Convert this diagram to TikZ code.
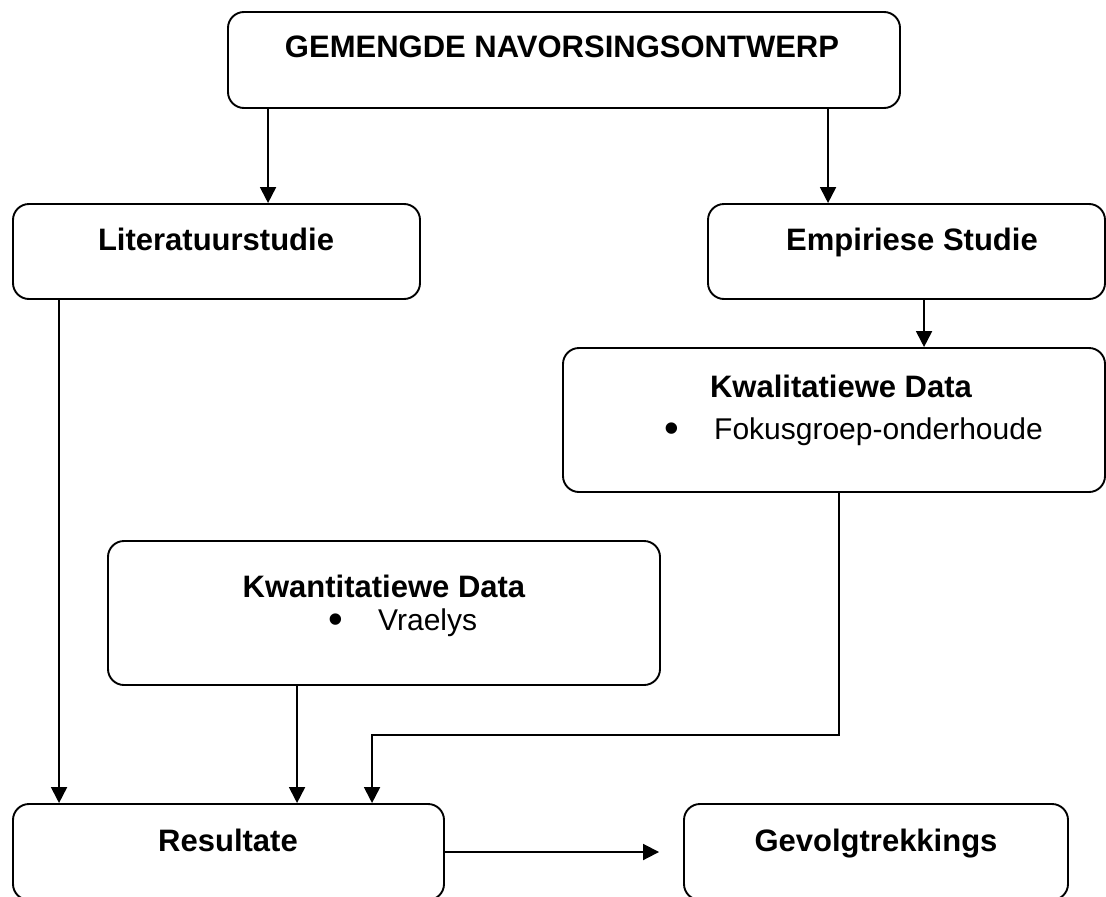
\documentclass[tikz,border=0pt]{standalone}
\usepackage{fontspec}
\setmainfont{Liberation Sans}
\usetikzlibrary{arrows.meta,calc}
\begin{document}
\begin{tikzpicture}[x=1pt,y=-1pt,
  box/.style={draw, line width=1.9pt, rounded corners=16pt, inner sep=0pt},
  hd/.style={anchor=base, inner sep=0pt, font=\fontsize{31}{37}\selectfont\bfseries},
  tx/.style={anchor=base west, inner sep=0pt, font=\fontsize{30}{36}\selectfont},
  bul/.style={anchor=base west, inner sep=0pt, font=\fontsize{42}{42}\selectfont},
  arr/.style={line width=1.9pt, -{Triangle[width=16pt,length=16pt]}},
  ln/.style={line width=1.9pt}]
\useasboundingbox (0,0) rectangle (1106,897);
\clip (0,0) rectangle (1106,897);
% boxes
\node[box, minimum width=672pt, minimum height=96pt] (top) at (564,60) {};
\node[box, minimum width=407pt, minimum height=95pt] (lit) at (216.5,251.5) {};
\node[box, minimum width=397pt, minimum height=95pt] (emp) at (906.5,251.5) {};
\node[box, minimum width=542pt, minimum height=144pt] (kwal) at (834,420) {};
\node[box, minimum width=552pt, minimum height=144pt] (kwan) at (384,613) {};
\node[box, minimum width=431pt, minimum height=96pt] (res) at (228.5,852) {};
\node[box, minimum width=384pt, minimum height=96pt] (gev) at (876,852) {};
% texts
\node[hd] (ttop) at (562,57) {GEMENGDE NAVORSINGSONTWERP};
\node[hd] (tlit) at (216,250) {Literatuurstudie};
\node[hd] (temp) at (912,250) {Empiriese Studie};
\node[hd] (tkwal) at (841,397) {Kwalitatiewe Data};
\node[bul] (bkwal) at (664,442) {\textbullet};
\node[tx] (ikwal) at (714,439) {Fokusgroep-onderhoude};
\node[hd] (tkwan) at (384,597) {Kwantitatiewe Data};
\node[bul] (bkwan) at (328,633) {\textbullet};
\node[tx] (ikwan) at (378,630) {Vraelys};
\node[hd] (tres) at (228,851) {Resultate};
\node[hd] (tgev) at (876,851) {Gevolgtrekkings};
% connectors
\draw[arr] ([xshift=41pt]top.south west) coordinate (a1) -- (a1 |- lit.north);
\draw[arr] ([xshift=601pt]top.south west) coordinate (a2) -- (a2 |- emp.north);
\draw[arr] ([xshift=47pt]lit.south west) coordinate (a3) -- (a3 |- res.north);
\draw[arr] ([xshift=217pt]emp.south west) coordinate (a4) -- (a4 |- kwal.north);
\draw[arr] ([xshift=190pt]kwan.south west) coordinate (a5) -- (a5 |- res.north);
\coordinate (k1) at ([xshift=277pt]kwal.south west);
\coordinate (k2) at ([xshift=360pt]res.north west);
\draw[arr] (k1) -- (k1 |- 0,735) -| (k2);
\draw[arr, shorten >=24pt] (res.east) -- (gev.west);
\end{tikzpicture}
\end{document}
